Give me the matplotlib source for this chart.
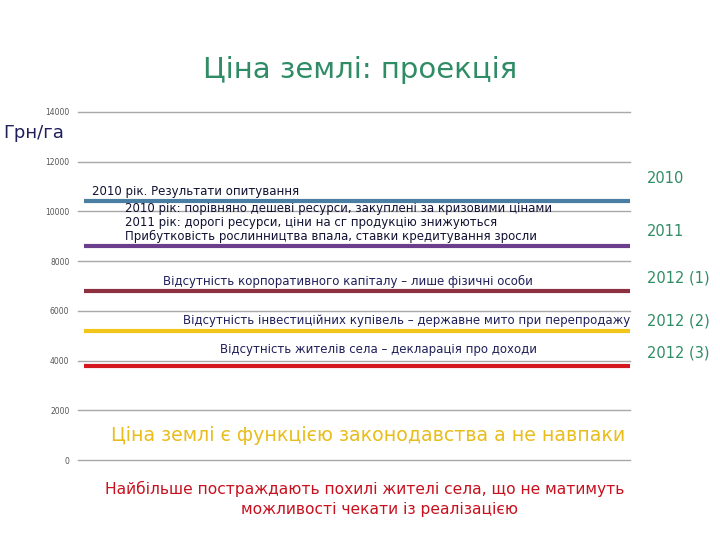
import matplotlib.pyplot as plt

# projected land price levels, UAH/ha
labels = ["2010", "2011", "2012 (1)", "2012 (2)", "2012 (3)"]
prices = [10400, 8600, 6800, 5200, 3800]
line_colors = ["#4a7ea2", "#6b3f8c", "#8c3042", "#f2c51a", "#d4161e"]

yticks = [0, 2000, 4000, 6000, 8000, 10000, 12000, 14000]

survey_lines = [
    "2010 рік: порівняно дешеві ресурси, закуплені за кризовими цінами",
    "2011 рік: дорогі ресурси, ціни на сг продукцію знижуються",
    "Прибутковість рослинництва впала, ставки кредитування зросли",
]
reasons = [
    "Відсутність корпоративного капіталу – лише фізичні особи",
    "Відсутність інвестиційних купівель – державне мито при перепродажу",
    "Відсутність жителів села – декларація про доходи",
]

navy = "#1f1f5c"
green = "#2f8c64"

fig = plt.figure(figsize=(7.2, 5.4), dpi=100)
ax = fig.add_axes([0.108, 0.148, 0.767, 0.645])

ax.set_ylim(0, 14000)
ax.set_xlim(0, 1)
ax.set_yticks(yticks)
ax.set_yticklabels([str(t) for t in yticks], fontsize=5.5, color="#555555")
ax.set_xticks([])
ax.tick_params(axis="y", length=0, pad=6)
for s in ax.spines.values():
    s.set_visible(False)
for t in yticks:
    ax.axhline(t, color="#a8a8a8", linewidth=1, clip_on=False, zorder=0)

for p, c in zip(prices, line_colors):
    ax.hlines(p, 0.012, 1.003, color=c, linewidth=3)

# survey notes above the 2010/2011 lines
ax.text(0.025, 10800, "2010 рік. Результати опитування", fontsize=8.5, color="#111133",
        va="center", ha="left")
for i, t in enumerate(survey_lines):
    ax.text(0.085, 10100 - i * 560, t, fontsize=8.5, color="#111133", va="center", ha="left")

# reasons above the 2012 lines
ax.text(0.49, 7200, reasons[0], fontsize=8.5, color=navy, ha="center", va="center")
ax.text(0.596, 5600, reasons[1], fontsize=8.5, color=navy, ha="center", va="center")
ax.text(0.544, 4450, reasons[2], fontsize=8.5, color=navy, ha="center", va="center")

# right-hand year labels
label_y = [11300, 9200, 7300, 5600, 4300]
for lab, y in zip(labels, label_y):
    ax.text(1.03, y, lab, fontsize=10.5, color=green, ha="left", va="center", clip_on=False)

ax.text(0.525, 1000, "Ціна землі є функцією законодавства а не навпаки", fontsize=13.7,
        color="#e8bd1c", ha="center", va="center")

fig.text(0.5, 0.87, "Ціна землі: проекція", fontsize=21, color=green, ha="center", va="center")
fig.text(0.005, 0.754, "Грн/га", fontsize=13, color=navy, ha="left", va="center")
fig.text(0.507, 0.094, "Найбільше постраждають похилі жителі села, що не матимуть",
         fontsize=11.2, color="#c8101e", ha="center", va="center")
fig.text(0.527, 0.057, "можливості чекати із реалізацією",
         fontsize=11.2, color="#c8101e", ha="center", va="center")

fig.savefig("out.png", dpi=100)
